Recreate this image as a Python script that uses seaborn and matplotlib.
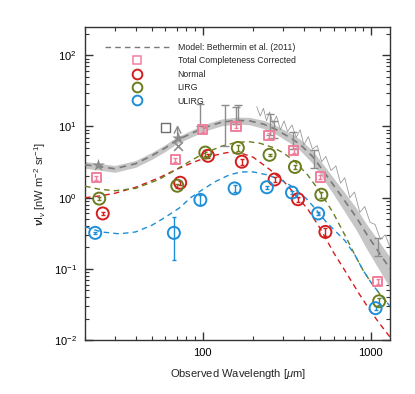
import numpy as np
import pandas as pd
import matplotlib
matplotlib.use("Agg")
import matplotlib.pyplot as plt
import seaborn as sns
from matplotlib.lines import Line2D
from matplotlib.ticker import LogLocator, FixedLocator, FixedFormatter, NullFormatter

# ---------------- data ----------------
# Bethermin et al. (2011) model (centre) and fractional half-width of its band
model_wl = [20, 24, 30, 40, 50, 60, 70, 90, 110, 130, 160, 190, 230, 270, 330, 380,
            450, 520, 600, 700, 820, 950, 1100, 1300]
model_val = [2.9, 2.75, 2.55, 3.0, 3.9, 5.0, 6.4, 8.4, 10.2, 11.5, 12.2, 12.0, 10.8,
             9.2, 7.0, 5.6, 3.8, 2.4, 1.5, 0.9, 0.53, 0.3, 0.18, 0.1]
model_frac = [0.11, 0.11, 0.11, 0.11, 0.11, 0.11, 0.11, 0.11, 0.11, 0.11, 0.11, 0.12,
              0.13, 0.14, 0.16, 0.18, 0.2, 0.23, 0.26, 0.3, 0.34, 0.38, 0.42, 0.46]

# FIRAS-like jagged spectrum
firas_wl = [210, 220, 230, 240, 250, 262, 275, 290, 305, 320, 340, 360, 380, 400, 425,
            450, 480, 510, 540, 580, 620, 660, 700, 750, 800, 860, 920, 990, 1060, 1140,
            1220, 1300]
firas_val = [19, 14, 18, 12, 16, 11, 14, 9, 12, 8.5, 10.5, 7, 9, 5.5, 7.2, 4.8, 5.4, 3.2,
             3.8, 2.4, 2.8, 1.6, 1.9, 1.0, 1.2, 0.62, 0.75, 0.45, 0.42, 0.26, 0.3, 0.2]

# population models (dashed)
normal_mwl = [20, 24, 30, 40, 55, 70, 90, 110, 140, 170, 200, 250, 300, 350, 420, 500,
              600, 700, 850, 1000, 1150, 1300]
normal_mval = [1.0, 1.05, 1.15, 1.4, 1.9, 2.5, 3.2, 3.8, 4.3, 4.2, 3.7, 2.5, 1.75, 1.15,
               0.7, 0.37, 0.17, 0.095, 0.045, 0.025, 0.016, 0.011]
lirg_mwl = [20, 24, 30, 40, 55, 70, 85, 100, 130, 160, 190, 220, 260, 300, 350, 420, 500,
            600, 700, 800, 900, 1000, 1150, 1300]
lirg_mval = [1.45, 1.32, 1.25, 1.35, 1.8, 2.5, 3.3, 4.1, 5.3, 6.0, 6.1, 5.8, 5.1, 4.3, 3.3,
             2.1, 1.2, 0.6, 0.3, 0.16, 0.095, 0.065, 0.042, 0.03]
ulirg_mwl = [20, 25, 32, 40, 50, 60, 73, 85, 100, 120, 145, 170, 200, 240, 290, 330, 414,
             480, 545, 600, 700, 800, 900, 1000, 1150, 1300]
ulirg_mval = [0.39, 0.33, 0.31, 0.33, 0.41, 0.53, 0.72, 1.0, 1.3, 1.7, 2.1, 2.3, 2.3, 2.1,
              1.8, 1.5, 0.97, 0.65, 0.45, 0.36, 0.25, 0.16, 0.095, 0.065, 0.042, 0.03]

# measurements
tcc_wl = [23.4, 69, 100, 158, 248, 348, 502, 1096]
tcc_val = [1.9, 3.4, 9.1, 10.1, 7.5, 4.6, 1.96, 0.067]
tcc_err = [0.12, 0.25, 0.6, 0.7, 0.5, 0.35, 0.15, 0.006]

normal_wl = [25.5, 73.6, 107.6, 171, 268, 369, 537]
normal_val = [0.6, 1.62, 3.87, 3.2, 1.8, 0.95, 0.33]
normal_err = [0.03, 0.1, 0.25, 0.3, 0.15, 0.08, 0.04]

lirg_wl = [24.3, 70.7, 103.8, 162, 250, 354, 508, 1120]
lirg_val = [0.97, 1.47, 4.3, 5.0, 4.0, 2.7, 1.1, 0.035]
lirg_err = [0.05, 0.1, 0.4, 0.5, 0.15, 0.15, 0.1, 0.004]

ulirg_wl = [23, 67.5, 97, 155, 241, 340, 486, 1067]
ulirg_val = [0.32, 0.32, 0.93, 1.35, 1.4, 1.18, 0.6, 0.028]
ulirg_lo = [0.31, 0.135, 0.78, 1.2, 1.33, 1.12, 0.57, 0.026]
ulirg_hi = [0.33, 0.53, 1.1, 1.5, 1.47, 1.24, 0.63, 0.030]

# grey literature points
gstar_wl = [24, 71]
gstar_val = [2.9, 6.8]
gx_wl = [71]
gx_val = [5.3]
gsq_wl = [60]
gsq_val = [9.6]
gerr_wl = [97, 135, 157, 163, 250, 265, 345, 460, 1100]
gerr_val = [15.5, 12.0, 14.0, 15.5, 11.0, 9.0, 6.5, 3.4, 0.2]
gerr_lo = [10.0, 5.4, 11.0, 12.0, 7.5, 7.0, 4.8, 2.6, 0.15]
gerr_hi = [21.0, 20.0, 19.0, 20.0, 15.0, 12.0, 8.5, 4.6, 0.27]

xlim = (20, 1300)
ylim = (0.01, 250)

# ---------------- style ----------------
sns.set_theme(style="ticks")
plt.rcParams['font.family'] = ['Liberation Sans', 'DejaVu Sans']
plt.rcParams['mathtext.fontset'] = 'custom'
plt.rcParams['mathtext.rm'] = 'Liberation Sans'
plt.rcParams['mathtext.it'] = 'Liberation Sans:italic'
plt.rcParams['mathtext.bf'] = 'Liberation Sans:bold:italic'

C_PINK = '#f07f9c'
C_RED = '#d21e1e'
C_GREEN = '#6a7d1e'
C_BLUE = '#1e8fd6'
C_GBAND = '#c6c6c6'
C_GLINE = '#7a7a7a'

fig = plt.figure(figsize=(4.15, 3.94), dpi=100)
ax = fig.add_axes([85 / 415, 1 - 340 / 394, 305 / 415, 313 / 394])
ax.set_xscale('log')
ax.set_yscale('log')

# model band
mdf = pd.DataFrame({'wl': model_wl, 'val': model_val, 'frac': model_frac})
ax.fill_between(mdf['wl'], mdf['val'] * (1 - mdf['frac']), mdf['val'] * (1 + mdf['frac']),
                color=C_GBAND, lw=0, zorder=1)

# FIRAS jagged line
fdf = pd.DataFrame({'wl': firas_wl, 'val': firas_val})
sns.lineplot(data=fdf, x='wl', y='val', ax=ax, color='#9a9a9a', lw=0.6, sort=False,
             estimator=None, zorder=2)

# model centre dashed
sns.lineplot(data=mdf, x='wl', y='val', ax=ax, color=C_GLINE, lw=1.2,
             linestyle=(0, (4, 3)), estimator=None, zorder=3)

# population dashed models
for wl, val, col in [(normal_mwl, normal_mval, C_RED), (lirg_mwl, lirg_mval, C_GREEN),
                     (ulirg_mwl, ulirg_mval, C_BLUE)]:
    d = pd.DataFrame({'wl': wl, 'val': val})
    sns.lineplot(data=d, x='wl', y='val', ax=ax, color=col, lw=1.0,
                 linestyle=(0, (4, 3)), estimator=None, zorder=3)

# grey literature points
gdf = pd.DataFrame({'wl': gerr_wl, 'val': gerr_val, 'lo': gerr_lo, 'hi': gerr_hi})
ax.errorbar(gdf['wl'], gdf['val'], yerr=[gdf['val'] - gdf['lo'], gdf['hi'] - gdf['val']],
            fmt='none', ecolor='#8c8c8c', elinewidth=1.0, capsize=3, zorder=4)
sns.scatterplot(x=gstar_wl, y=gstar_val, ax=ax, marker='*', s=90, color='#8c8c8c',
                linewidth=0, zorder=4)
sns.scatterplot(x=gx_wl, y=gx_val, ax=ax, marker='x', s=40, color='#8c8c8c',
                linewidth=1.2, zorder=4)
sns.scatterplot(x=gsq_wl, y=gsq_val, ax=ax, marker='s', s=40, facecolor='none',
                edgecolor='#6e6e6e', linewidth=1.0, zorder=4)
ax.annotate('', xy=(gx_wl[0], 10.5), xytext=(gx_wl[0], 7.0),
            arrowprops=dict(arrowstyle='->', color='#8c8c8c', lw=1.0, shrinkA=0, shrinkB=0),
            zorder=4)

# measurements
def pts(wl, val, lo, hi, col, marker, s):
    d = pd.DataFrame({'wl': wl, 'val': val, 'lo': lo, 'hi': hi})
    ax.errorbar(d['wl'], d['val'], yerr=[d['val'] - d['lo'], d['hi'] - d['val']],
                fmt='none', ecolor=col, elinewidth=1.0, capsize=1.5, zorder=5)
    sns.scatterplot(data=d, x='wl', y='val', ax=ax, marker=marker, s=s,
                    facecolor='none', edgecolor=col, linewidth=1.4, zorder=6)

pts(tcc_wl, tcc_val, np.array(tcc_val) - np.array(tcc_err), np.array(tcc_val) + np.array(tcc_err),
    C_PINK, 's', 45)
pts(normal_wl, normal_val, np.array(normal_val) - np.array(normal_err),
    np.array(normal_val) + np.array(normal_err), C_RED, 'o', 75)
pts(lirg_wl, lirg_val, np.array(lirg_val) - np.array(lirg_err),
    np.array(lirg_val) + np.array(lirg_err), C_GREEN, 'o', 75)
pts(ulirg_wl, ulirg_val, ulirg_lo, ulirg_hi, C_BLUE, 'o', 75)

# axes
ax.set_xlim(*xlim)
ax.set_ylim(*ylim)
ax.xaxis.set_major_locator(FixedLocator([100, 1000]))
ax.xaxis.set_major_formatter(FixedFormatter(['100', '1000']))
ax.xaxis.set_minor_locator(LogLocator(base=10, subs=np.arange(2, 10), numticks=20))
ax.xaxis.set_minor_formatter(NullFormatter())
ax.yaxis.set_major_locator(LogLocator(base=10, numticks=10))
ax.yaxis.set_minor_locator(LogLocator(base=10, subs=np.arange(2, 10), numticks=20))
ax.yaxis.set_minor_formatter(NullFormatter())
ax.tick_params(which='both', direction='in', top=True, right=True, color='#333333',
               labelsize=8, labelcolor='black')
ax.tick_params(which='major', length=6, width=1.0, pad=6)
ax.tick_params(which='minor', length=3, width=0.8)
for sp in ax.spines.values():
    sp.set_linewidth(1.0)
    sp.set_color('#333333')

ax.set_xlabel(r'Observed Wavelength [$\mu$m]', fontsize=8, labelpad=6)
ax.set_ylabel(r'$\mathbf{\nu}$I$_\nu$ [nW m$^{-2}$ sr$^{-1}$]', fontsize=8, labelpad=4)

handles = [
    Line2D([], [], color=C_GLINE, lw=1.0, linestyle=(0, (4, 3))),
    Line2D([], [], ls='', marker='s', ms=5.5, mfc='none', mec=C_PINK, mew=1.1),
    Line2D([], [], ls='', marker='o', ms=7, mfc='none', mec=C_RED, mew=1.4),
    Line2D([], [], ls='', marker='o', ms=7, mfc='none', mec=C_GREEN, mew=1.4),
    Line2D([], [], ls='', marker='o', ms=7, mfc='none', mec=C_BLUE, mew=1.4),
]
labels = ['Model: Bethermin et al. (2011)', 'Total Completeness Corrected', 'Normal',
          'LIRG', 'ULIRG']
leg = ax.legend(handles, labels, loc='upper left', bbox_to_anchor=(20 / 305, (340 - 43) / 313),
                frameon=False, fontsize=6.3, handlelength=7.3, handletextpad=1.0,
                labelspacing=0.5, borderpad=0, borderaxespad=0)

fig.savefig('out.png', dpi=100)
